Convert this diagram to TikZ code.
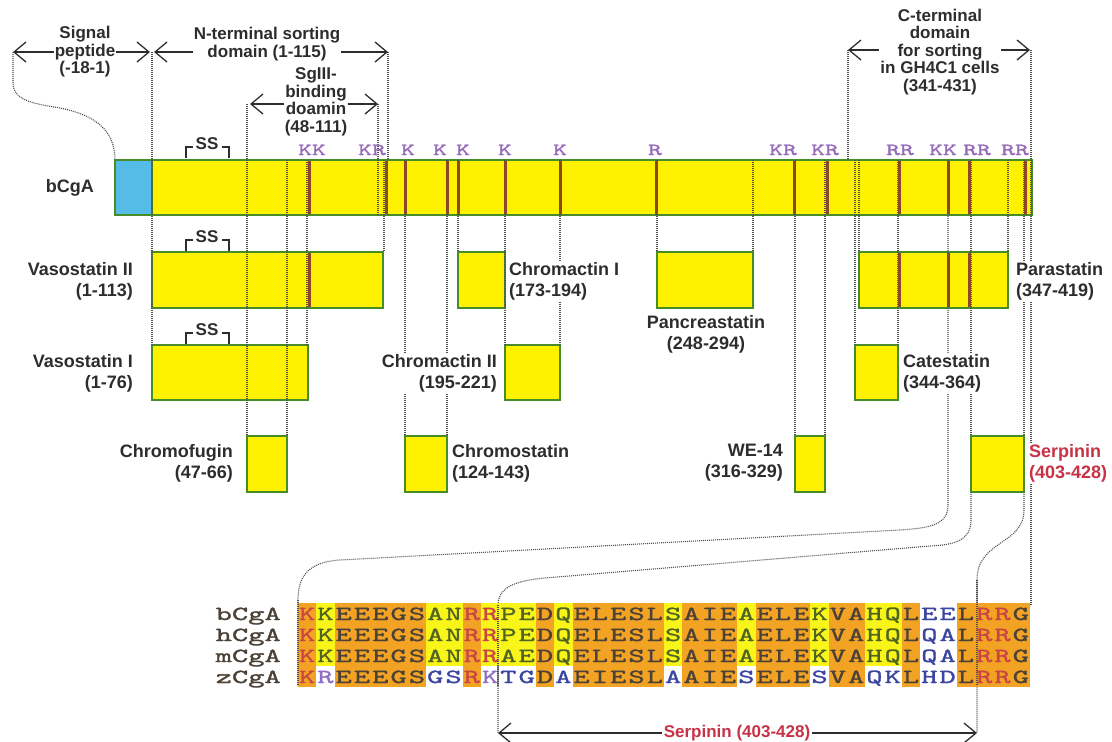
\documentclass[tikz,border=0pt]{standalone}
\usepackage{fontspec}
\setmainfont{Liberation Sans}
\newfontfamily\seqfont[FakeStretch=1.55,FakeBold=1.4]{lmmono10-regular.otf}
\usepackage{xcolor}
\usetikzlibrary{arrows.meta}

\definecolor{cgyellow}{RGB}{255,242,0}
\definecolor{cgblue}{RGB}{85,188,232}
\definecolor{cggreen}{RGB}{70,140,40}
\definecolor{cgbrown}{RGB}{140,70,40}
\definecolor{cgpurple}{RGB}{150,105,185}
\definecolor{cgtext}{RGB}{45,45,45}
\definecolor{cgdot}{RGB}{80,80,80}
\definecolor{cgred}{RGB}{200,50,70}
\definecolor{alorange}{RGB}{243,163,35}
\definecolor{alyellow}{RGB}{250,245,25}
\definecolor{seqg}{RGB}{75,65,55}
\definecolor{seqn}{RGB}{80,100,35}
\definecolor{seqr}{RGB}{200,70,70}
\definecolor{seqb}{RGB}{60,70,160}
\definecolor{seqp}{RGB}{145,110,195}

\tikzset{
  frag/.style={draw=cggreen, fill=cgyellow, line width=1.5pt},
  cut/.style={draw=cgbrown, line width=3pt},
  guide/.style={draw=cgdot, line width=1.1pt, dash pattern=on 1pt off 1pt},
  rangearrow/.style={draw=cgtext, line width=1.3pt, <->, >={Straight Barb[length=12pt,width=20pt]}},
  lbl/.style={font=\fontsize{18}{21}\selectfont\bfseries, text=cgtext, fill=white, inner sep=1pt},
  toplbl/.style={font=\fontsize{17}{17.5}\selectfont\bfseries, text=cgtext, fill=white, inner sep=1pt, align=center},
  site/.style={font=\seqfont\fontsize{17}{17}\selectfont, text=cgpurple, anchor=base, inner sep=0pt},
  res/.style={font=\seqfont\fontsize{20}{20}\selectfont, anchor=base, inner sep=0pt},
  topO/.style={fill=alorange}, topY/.style={fill=alyellow}, topW/.style={},
  lowO/.style={fill=alorange}, lowY/.style={}, lowW/.style={},
}

\begin{document}
\begin{tikzpicture}[x=1pt, y=-1pt]
    \useasboundingbox (0,0) rectangle (1112,742);

    % precursor
    \draw[frag, fill=cgblue] (115,160) rectangle (152,215);
    \draw[frag] (152,160) rectangle (1032,215);
    \node[lbl, anchor=east] (bcga) at (95,188) {bCgA};

    % fragments
    \draw[frag] (152,252) rectangle (383,308);
    \draw[frag] (152,345) rectangle (308,400);
    \draw[frag] (247,436) rectangle (287,492);
    \draw[frag] (405,436) rectangle (447,492);
    \draw[frag] (458,252) rectangle (505,308);
    \draw[frag] (505,345) rectangle (560,400);
    \draw[frag] (657,252) rectangle (753,308);
    \draw[frag] (795,436) rectangle (825,492);
    \draw[frag] (859,252) rectangle (1008,308);
    \draw[frag] (855,345) rectangle (898,400);
    \draw[frag] (971,436) rectangle (1024,492);

    % dotted guides
    \foreach \x/\ya/\yb in {152/52/345, 388/52/160, 247/104/436, 378/104/215,
        384/160/252, 287/160/436, 307/160/345, 405/160/436, 447/160/436,
        458/160/252, 505/160/345, 560/160/345, 657/160/252, 753/160/252,
        795/160/436, 825/160/436, 848/50/160, 855/160/345, 859/160/252,
        898/160/345, 1008/160/252, 971/160/436, 1024/160/436, 1031/50/605}
        \draw[guide] (\x,\ya) -- (\x,\yb);
    \draw[guide] (13,52) -- (13,82) .. controls (13,100) and (30,103) .. (60,108)
        .. controls (95,115) and (115,130) .. (115,160);
    \draw[guide] (948,160) -- (948,505) .. controls (948,525) and (930,528) .. (900,530)
        -- (340,560) .. controls (305,562) and (298,580) .. (298,600) -- (298,686);
    \draw[guide] (971,492) -- (971,520) .. controls (971,540) and (955,545) .. (930,546)
        -- (545,578) .. controls (510,581) and (498,590) .. (498,605) -- (498,733);
    \draw[guide] (1024,492) -- (1024,510) .. controls (1024,545) and (977,540) .. (977,580)
        -- (977,733);

    % cleavage sites
    \foreach \x in {309,386,405,447,458,505,560,656,794,827,899,948,969,1025}
        \draw[cut] (\x,161) -- (\x,214);
    \foreach \x in {309,899,948,969}
        \draw[cut] (\x,253) -- (\x,307);
    \foreach \x/\t [count=\i] in {312/KK,372/KR,408/K,440/K,463/K,505/K,560/K,655/R,
        783/KR,825/KR,900/RR,943/KK,977/RR,1015/RR}
        \node[site] (site\i) at (\x,155) {\t};

    % disulfide loops
    \foreach \y/\nm in {158/ssa, 251/ssb, 344/ssc} {
        \draw[cgtext, line width=1.3pt] (186,\y) -- (186,\y-11) -- (193,\y-11);
        \draw[cgtext, line width=1.3pt] (222,\y-11) -- (229,\y-11) -- (229,\y);
        \node[font=\fontsize{17}{17}\selectfont\bfseries, text=cgtext, inner sep=0pt] (\nm) at (207,\y-14) {SS};
    }

    % domains
    \draw[rangearrow] (13,52) -- (150,52);
    \draw[rangearrow] (154,52) -- (388,52);
    \draw[rangearrow] (250,104) -- (378,104);
    \draw[rangearrow] (848,50) -- (1030,50);
    \node[toplbl] (signal) at (85,52) {Signal\\peptide\\(-18-1)};
    \node[toplbl] (nterm) at (267,44) {N-terminal sorting\\domain (1-115)};
    \node[toplbl] (sgiii) at (316,102) {SgIII-\\binding\\doamin\\(48-111)};
    \node[toplbl] (cterm) at (940,52) {C-terminal\\domain\\for sorting\\in GH4C1 cells\\(341-431)};

    % fragment names
    \node[lbl, align=right, anchor=east] (vasoii) at (134,281) {Vasostatin II\\(1-113)};
    \node[lbl, align=right, anchor=east] (vasoi) at (134,373) {Vasostatin I\\(1-76)};
    \node[lbl, align=right, anchor=east] (fugin) at (234,463) {Chromofugin\\(47-66)};
    \node[lbl, align=left, anchor=west] (cstatin) at (451,463) {Chromostatin\\(124-143)};
    \node[lbl, align=left, anchor=west] (cactini) at (508,281) {Chromactin I\\(173-194)};
    \node[lbl, align=right, anchor=east] (cactinii) at (498,373) {Chromactin II\\(195-221)};
    \node[lbl, align=center] (panc) at (706,334) {Pancreastatin\\(248-294)};
    \node[lbl, align=right, anchor=east] (we14) at (784,463) {WE-14\\(316-329)};
    \node[lbl, align=left, anchor=west] (para) at (1015,281) {Parastatin\\(347-419)};
    \node[lbl, align=left, anchor=west] (cate) at (902,373) {Catestatin\\(344-364)};
    \node[lbl, align=left, anchor=west, text=cgred] (serp) at (1028,463) {Serpinin\\(403-428)};

    % alignment
    \foreach \y/\nm/\t in {620/nb/bCgA, 641/nh/hCgA, 662/nm/mCgA, 683/nz/zCgA}
        \node[res, anchor=base east, text=seqg] (\nm) at (281,\y) {\t};
    \foreach \cls/\ctop/\clow/\resA/\resB/\resC/\resD [count=\i] in {
        O/r/r/K/K/K/K, Y/n/p/K/K/K/R, O/g/g/E/E/E/E, O/g/g/E/E/E/E, O/g/g/E/E/E/E,
        O/g/g/G/G/G/G, O/g/g/S/S/S/S, Y/n/b/A/A/A/G, Y/n/b/N/N/N/S, O/r/r/R/R/R/R,
        Y/r/p/R/R/R/K, Y/n/b/P/P/A/T, Y/n/b/E/E/E/G, O/g/g/D/D/D/D, Y/n/b/Q/Q/Q/A,
        O/g/g/E/E/E/E, O/g/g/L/L/L/I, O/g/g/E/E/E/E, O/g/g/S/S/S/S, O/g/g/L/L/L/L,
        Y/n/b/S/S/S/A, O/g/g/A/A/A/A, O/g/g/I/I/I/I, O/g/g/E/E/E/E, Y/n/b/A/A/A/S,
        O/g/g/E/E/E/E, O/g/g/L/L/L/L, O/g/g/E/E/E/E, Y/n/b/K/K/K/S, O/g/g/V/V/V/V,
        O/g/g/A/A/A/A, Y/n/b/H/H/H/Q, Y/n/b/Q/Q/Q/K, O/g/g/L/L/L/L, W/b/b/E/Q/Q/H,
        W/b/b/E/A/A/D, O/g/g/L/L/L/L, O/r/r/R/R/R/R, O/r/r/R/R/R/R, O/g/g/G/G/G/G} {
        \pgfmathsetmacro\xa{298+(\i-1)*18.3}
        \pgfmathsetmacro\xb{\xa+18.3}
        \pgfmathsetmacro\xc{\xa+9.15}
        \path[top\cls] (\xa,602.5) rectangle (\xb,665.5);
        \path[low\cls] (\xa,665.5) rectangle (\xb,686.5);
        \node[res, text=seq\ctop] (rb\i) at (\xc,620) {\resA};
        \node[res, text=seq\ctop] (rh\i) at (\xc,641) {\resB};
        \node[res, text=seq\ctop] (rm\i) at (\xc,662) {\resC};
        \node[res, text=seq\clow] (rz\i) at (\xc,683) {\resD};
    }
    \draw[guide] (298,600) -- (298,686);
    \draw[guide] (498,605) -- (498,686);
    \draw[guide] (977,580) -- (977,686);

    \draw[rangearrow] (498,733) -- (977,733);
    \node[font=\fontsize{17}{17}\selectfont\bfseries, text=cgred, fill=white, inner sep=2pt] (serpseq) at (737,733) {Serpinin (403-428)};
\end{tikzpicture}
\end{document}
